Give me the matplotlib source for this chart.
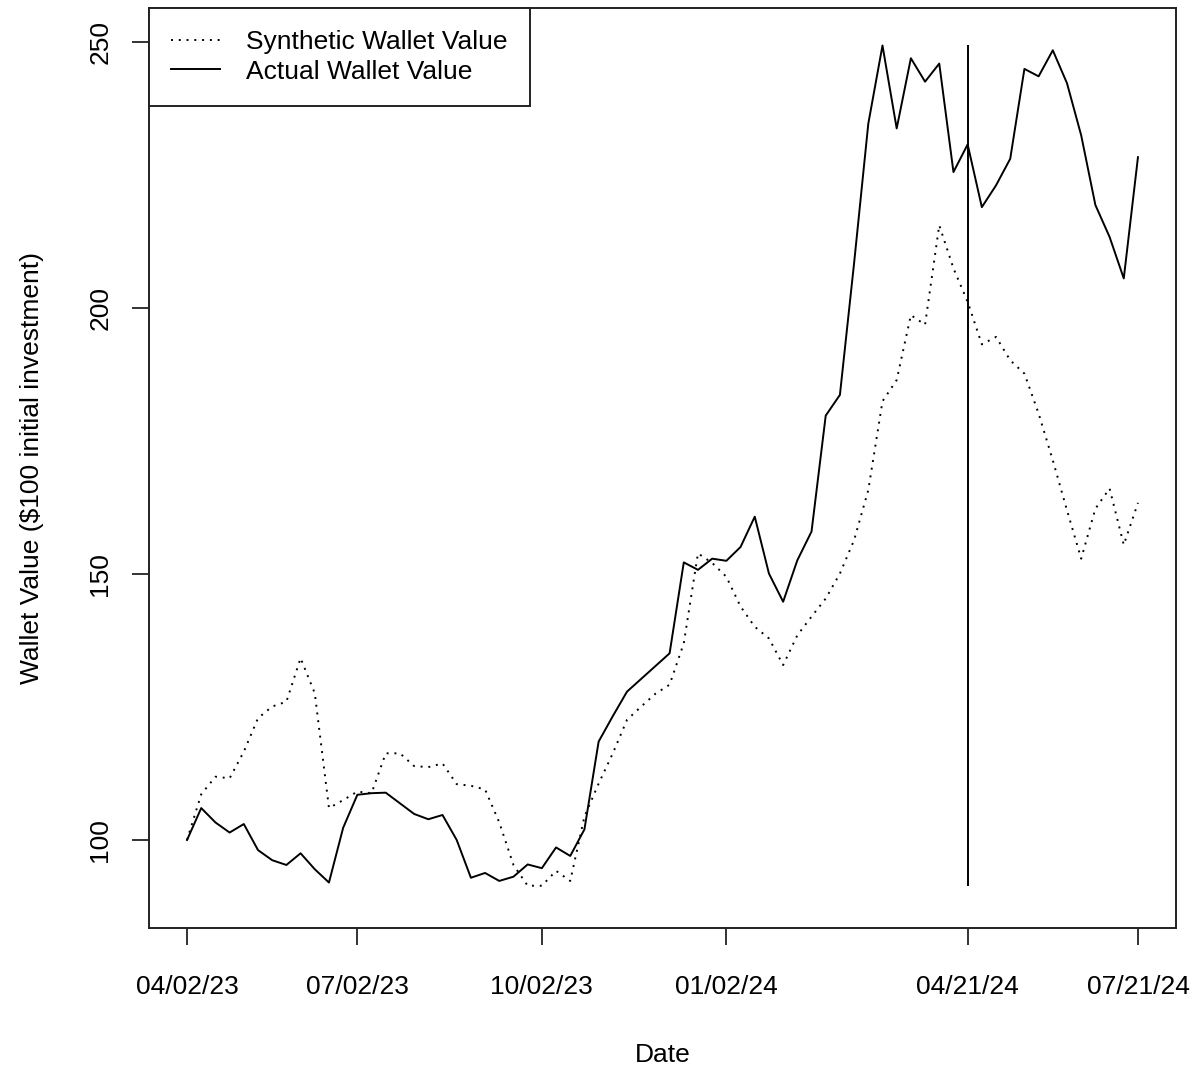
import numpy as np
import matplotlib
matplotlib.use("Agg")
import matplotlib.pyplot as plt

actual = [100.0, 106.0, 103.3, 101.4, 103.0, 98.1, 96.2, 95.3, 97.5, 94.5,
          92.0, 102.3, 108.5, 108.8, 108.9, 106.9, 104.9, 103.9, 104.7, 100.0,
          92.9, 93.8, 92.3, 93.1, 95.4, 94.7, 98.6, 97.0, 102.0, 118.5,
          123.3, 127.9, 130.3, 132.7, 135.1, 152.2, 150.8, 152.9, 152.5, 155.1,
          160.8, 150.1, 144.8, 152.6, 158.0, 179.8, 183.7, 208.5, 234.7, 249.4,
          233.8, 247.0, 242.6, 246.0, 225.6, 230.8, 219.0, 223.1, 228.1, 245.0,
          243.6, 248.5, 242.3, 232.5, 219.4, 213.4, 205.6, 228.4]
synthetic = [100.0, 108.6, 111.9, 111.6, 116.6, 122.9, 125.1, 126.0, 134.2, 127.6,
             106.0, 107.5, 109.1, 108.8, 116.3, 116.3, 113.9, 113.7, 114.4, 110.5,
             110.2, 109.5, 103.3, 95.3, 91.4, 91.4, 94.2, 92.3, 104.4, 110.6,
             116.3, 122.6, 125.1, 127.5, 129.2, 137.0, 153.9, 152.1, 149.5, 143.9,
             140.1, 137.9, 132.9, 138.5, 142.0, 145.4, 150.1, 156.4, 165.8, 182.5,
             186.5, 198.7, 196.9, 215.6, 207.5, 201.2, 193.2, 194.6, 190.2, 187.7,
             180.2, 171.4, 162.0, 152.9, 162.3, 166.1, 155.5, 163.4]
tick_index = [0, 12, 25, 38, 55, 67]
tick_labels = ["04/02/23", "07/02/23", "10/02/23", "01/02/24", "04/21/24", "07/21/24"]
marker_index = 55  # vertical line at 04/21/24
y_ticks = [100, 150, 200, 250]

x = np.arange(len(actual))

plt.rcParams['font.family'] = ['Liberation Sans', 'DejaVu Sans']
FS = 19
LW = 1.4

fig = plt.figure(figsize=(11.99, 10.70), dpi=100)
ax = fig.add_axes([149/1199, 1 - 928/1070, (1176-149)/1199, (928-8)/1070])

ax.plot(x, synthetic, color='black', lw=LW, linestyle=(0, (1, 3)),
        dash_capstyle='butt', label='Synthetic Wallet Value')
ax.plot(x, actual, color='black', lw=LW, label='Actual Wallet Value')

ymin = min(min(actual), min(synthetic))
ymax = max(max(actual), max(synthetic))
ax.vlines(marker_index, ymin, ymax, color='black', lw=LW)

n = len(actual) - 1
ax.set_xlim(-0.04 * n, n * 1.04)
ax.set_ylim(83.45, 256.45)

ax.set_xticks(tick_index)
ax.set_xticklabels(tick_labels)
ax.set_yticks(y_ticks)
ax.set_yticklabels([str(v) for v in y_ticks], rotation=90, va='center')

ax.tick_params(axis='both', direction='out', length=12.5, width=LW,
               labelsize=FS, color='#333333')
ax.tick_params(axis='x', pad=21)
ax.tick_params(axis='y', pad=14)
for s in ax.spines.values():
    s.set_linewidth(LW)
    s.set_color('#222222')

ax.set_xlabel('Date', fontsize=FS, labelpad=32)
ax.set_ylabel('Wallet Value ($100 initial investment)', fontsize=FS, labelpad=32)

leg = ax.legend(loc='upper left', bbox_to_anchor=(0, 1), borderaxespad=0,
                fontsize=FS, fancybox=False, framealpha=1, edgecolor='#222222',
                handlelength=1.85, handletextpad=1.0, labelspacing=0.22,
                borderpad=0.83)
leg.get_frame().set_linewidth(LW)

fig.savefig('out.png', dpi=100)
